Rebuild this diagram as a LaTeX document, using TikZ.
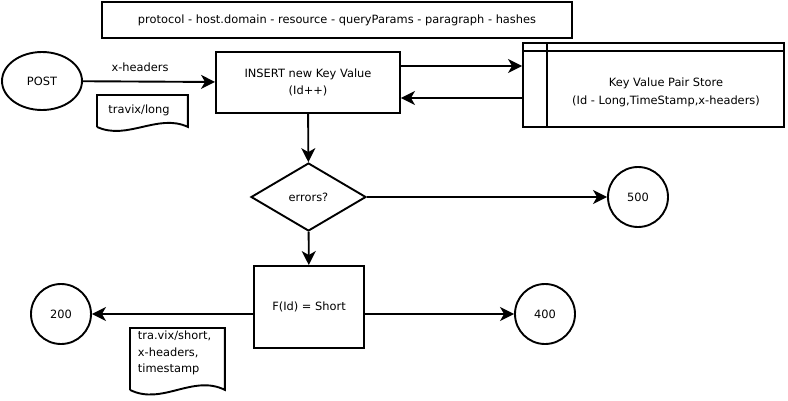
\documentclass[tikz,border=0pt]{standalone}
\usepackage{fontspec}
\setmainfont{DejaVu Sans}
\usetikzlibrary{shapes.geometric, arrows.meta, positioning, calc}

\begin{document}
\begin{tikzpicture}[
    x=1pt, y=-1pt,
    line width=1.9pt,
    every node/.style={font=\fontsize{11.4}{16.5}\selectfont},
    box/.style={rectangle, draw, inner sep=0pt, align=center},
    term/.style={ellipse, draw, inner sep=0pt, minimum width=80pt, minimum height=58pt},
    code/.style={circle, draw, inner sep=0pt, minimum size=60pt},
    cond/.style={diamond, draw, inner sep=0pt, minimum width=115pt, minimum height=68pt},
    note/.style={rectangle, inner sep=0pt, anchor=north west},
    arrow/.style={-{Stealth[length=14pt, width=14pt, inset=4pt]}}
]
    \useasboundingbox (0,0) rectangle (788,400);

    % URL parts
    \node[box, minimum width=470pt, minimum height=36pt] (url) at (337,20) {protocol - host.domain - resource - queryParams - paragraph - hashes};

    % Request side
    \node[term] (post) at (42,81) {POST};
    \node[box, minimum width=184pt, minimum height=61pt] (insert) at (308,82.5) {INSERT new Key Value\\(Id++)};
    \node (xh) at (140,67) {x-headers};

    % Store
    \node[box, minimum width=261pt, minimum height=84pt] (store) at (653.5,85) {};
    \draw ($(store.north west)+(25,0)$) -- ($(store.south west)+(25,0)$);
    \draw ($(store.north west)+(0,9)$) -- ($(store.north east)+(0,9)$);
    \node[align=center, font=\fontsize{11.4}{18}\selectfont] (kv) at (666,92) {Key Value Pair Store\\(Id - Long,TimeStamp,x-headers)};

    % Decision and results
    \node[cond] (errors) at (308.5,197) {errors?};
    \node[code] (c500) at (638,197) {500};
    \node[box, minimum width=110pt, minimum height=82pt] (fshort) at (309,307) {F(Id) = Short};
    \node[code] (c200) at (61,314) {200};
    \node[code] (c400) at (545,314) {400};

    % Documents
    \node[note, minimum width=89pt, minimum height=30pt] (long) at (97,95) {};
    \draw (long.south west) -- (long.north west) -- (long.north east) -- (long.south east)
        .. controls +(-30,-14) and +(30,14) .. (long.south west);
    \node (longtxt) at (139,110) {travix/long};

    \node[note, minimum width=93pt, minimum height=60pt] (short) at (130,328) {};
    \draw (short.south west) -- (short.north west) -- (short.north east) -- (short.south east)
        .. controls +(-32,-16) and +(32,16) .. (short.south west);
    \node[anchor=north west, align=left, inner sep=0pt] (shorttxt) at (137,330) {tra.vix/short,\\x-headers,\\timestamp};

    % Arrows
    \coordinate (kvin) at ($(insert.east)+(0,-16.5)$);
    \coordinate (kvout) at ($(insert.east)+(0,15.5)$);
    \draw[arrow] (post) -- (insert);
    \draw[arrow] (kvin) -- (kvin -| store.west);
    \draw[arrow] (kvout -| store.west) -- (kvout);
    \draw[arrow] (insert) -- (errors);
    \draw[arrow] (errors) -- (c500);
    \draw[arrow] (errors) -- (fshort);
    \draw[arrow] (fshort.west |- c200) -- (c200);
    \draw[arrow] (fshort.east |- c400) -- (c400);

\end{tikzpicture}
\end{document}
